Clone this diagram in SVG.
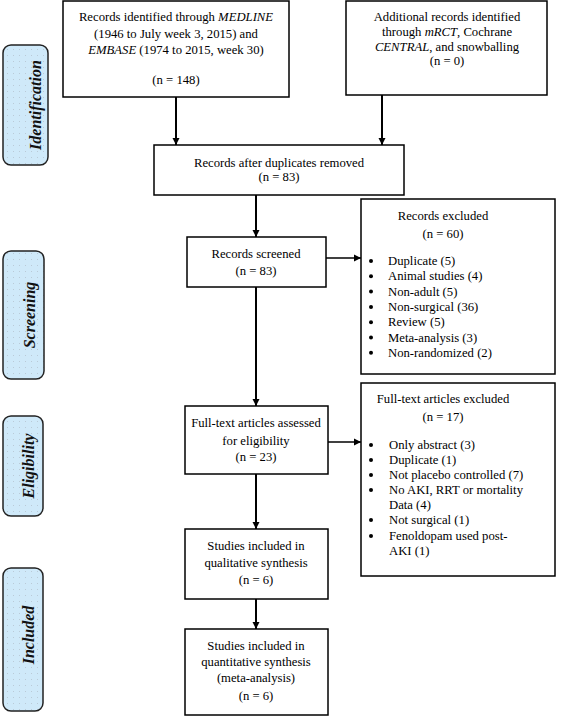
<svg xmlns="http://www.w3.org/2000/svg" width="568" height="716" viewBox="0 0 568 716">
<style>
.box{fill:#fff;stroke:#000;stroke-width:1.5}
.lab{fill:url(#dots);stroke:#222;stroke-width:1.5}
.t{font-family:"Liberation Serif","Times New Roman",serif;font-size:12.7px;fill:#000}
.c{text-anchor:middle}
.side{font-family:"Liberation Serif","Times New Roman",serif;font-size:16px;font-weight:bold;font-style:italic;text-anchor:middle;fill:#111}
.ln{stroke:#000;stroke-width:2;fill:none}
.ln2{stroke:#000;stroke-width:1.3;fill:none}
</style>
<defs>
<pattern id="dots" width="6" height="6" patternUnits="userSpaceOnUse">
<rect width="6" height="6" fill="#cfe9f9"/>
<circle cx="1.5" cy="1.5" r="0.5" fill="#b4c0cc"/>
</pattern>
<marker id="ah" markerWidth="8" markerHeight="8" refX="7" refY="4" orient="auto" markerUnits="userSpaceOnUse">
<path d="M0,0.5 L7,4 L0,7.5 Z" fill="#000"/>
</marker>
</defs>

<g id="label-identification">
<rect class="lab" x="3" y="45" width="45" height="120" rx="8"/>
<text class="side" transform="translate(41,105) rotate(-90)">Identification</text>
</g>
<g id="label-screening">
<rect class="lab" x="3" y="251" width="41" height="128" rx="8"/>
<text class="side" transform="translate(35,315) rotate(-90)">Screening</text>
</g>
<g id="label-eligibility">
<rect class="lab" x="3" y="416" width="40" height="100" rx="8"/>
<text class="side" transform="translate(34,466) rotate(-90)">Eligibility</text>
</g>
<g id="label-included">
<rect class="lab" x="3" y="568" width="40" height="143" rx="8"/>
<text class="side" transform="translate(34,635) rotate(-90)">Included</text>
</g>

<g id="connectors">
<line class="ln" x1="176" y1="97" x2="176" y2="145" marker-end="url(#ah)"/>
<line class="ln" x1="382" y1="95" x2="382" y2="145" marker-end="url(#ah)"/>
<line class="ln" x1="256" y1="195" x2="256" y2="237" marker-end="url(#ah)"/>
<line class="ln2" x1="326" y1="258" x2="361" y2="258" marker-end="url(#ah)"/>
<line class="ln" x1="256" y1="287" x2="256" y2="406" marker-end="url(#ah)"/>
<line class="ln2" x1="328" y1="442" x2="361" y2="442" marker-end="url(#ah)"/>
<line class="ln" x1="256" y1="474" x2="256" y2="529" marker-end="url(#ah)"/>
<line class="ln" x1="256" y1="599" x2="256" y2="629" marker-end="url(#ah)"/>
</g>

<g id="medline">
<rect class="box" x="63" y="1" width="226" height="96"/>
<text class="t c" x="176" y="21">Records identified through <tspan font-style="italic">MEDLINE</tspan></text>
<text class="t c" x="176" y="38">(1946 to July week 3, 2015) and</text>
<text class="t c" x="176" y="54"><tspan font-style="italic">EMBASE</tspan> (1974 to 2015, week 30)</text>
<text class="t c" x="176" y="84">(n = 148)</text>
</g>

<g id="additional">
<rect class="box" x="346" y="1" width="201" height="94"/>
<text class="t c" x="447" y="21">Additional records identified</text>
<text class="t c" x="447" y="36">through <tspan font-style="italic">mRCT</tspan>, Cochrane</text>
<text class="t c" x="447" y="51"><tspan font-style="italic">CENTRAL</tspan>, and snowballing</text>
<text class="t c" x="447" y="65">(n = 0)</text>
</g>

<g id="duplicates">
<rect class="box" x="154" y="145" width="250" height="50"/>
<text class="t c" x="279" y="167">Records after duplicates removed</text>
<text class="t c" x="279" y="181">(n = 83)</text>
</g>

<g id="screened">
<rect class="box" x="187" y="237" width="139" height="50"/>
<text class="t c" x="256" y="258">Records screened</text>
<text class="t c" x="256" y="275">(n = 83)</text>
</g>

<g id="excluded">
<rect class="box" x="361" y="199" width="194" height="175"/>
<text class="t c" x="443" y="220">Records excluded</text>
<text class="t c" x="443" y="238">(n = 60)</text>
<g class="t">
<circle cx="371" cy="261" r="2"/><text x="388" y="265">Duplicate (5)</text>
<circle cx="371" cy="276.3" r="2"/><text x="388" y="280.3">Animal studies (4)</text>
<circle cx="371" cy="291.6" r="2"/><text x="388" y="295.6">Non-adult (5)</text>
<circle cx="371" cy="306.9" r="2"/><text x="388" y="310.9">Non-surgical  (36)</text>
<circle cx="371" cy="322.2" r="2"/><text x="388" y="326.2">Review (5)</text>
<circle cx="371" cy="337.5" r="2"/><text x="388" y="341.5">Meta-analysis (3)</text>
<circle cx="371" cy="352.8" r="2"/><text x="388" y="356.8">Non-randomized (2)</text>
</g>
</g>

<g id="assessed">
<rect class="box" x="185" y="406" width="143" height="68"/>
<text class="t c" x="256" y="427">Full-text articles assessed</text>
<text class="t c" x="256" y="445">for eligibility</text>
<text class="t c" x="256" y="461">(n = 23)</text>
</g>

<g id="ft-excluded">
<rect class="box" x="361" y="383" width="194" height="193"/>
<text class="t c" x="443" y="403">Full-text articles excluded</text>
<text class="t c" x="443" y="421">(n = 17)</text>
<g class="t">
<circle cx="371" cy="445" r="2"/><text x="389" y="449">Only abstract (3)</text>
<circle cx="371" cy="460" r="2"/><text x="389" y="464">Duplicate (1)</text>
<circle cx="371" cy="475" r="2"/><text x="389" y="479">Not placebo controlled (7)</text>
<circle cx="371" cy="490" r="2"/><text x="389" y="494">No AKI, RRT or mortality</text>
<text x="389" y="509">Data (4)</text>
<circle cx="371" cy="520" r="2"/><text x="389" y="524">Not surgical (1)</text>
<circle cx="371" cy="536" r="2"/><text x="389" y="540">Fenoldopam used post-</text>
<text x="389" y="555">AKI (1)</text>
</g>
</g>

<g id="qualitative">
<rect class="box" x="185" y="529" width="143" height="70"/>
<text class="t c" x="256" y="550">Studies included in</text>
<text class="t c" x="256" y="567">qualitative synthesis</text>
<text class="t c" x="256" y="584">(n = 6)</text>
</g>

<g id="quantitative">
<rect class="box" x="185" y="629" width="143" height="86"/>
<text class="t c" x="256" y="650">Studies included in</text>
<text class="t c" x="256" y="666">quantitative synthesis</text>
<text class="t c" x="256" y="682">(meta-analysis)</text>
<text class="t c" x="256" y="700">(n = 6)</text>
</g>
</svg>
